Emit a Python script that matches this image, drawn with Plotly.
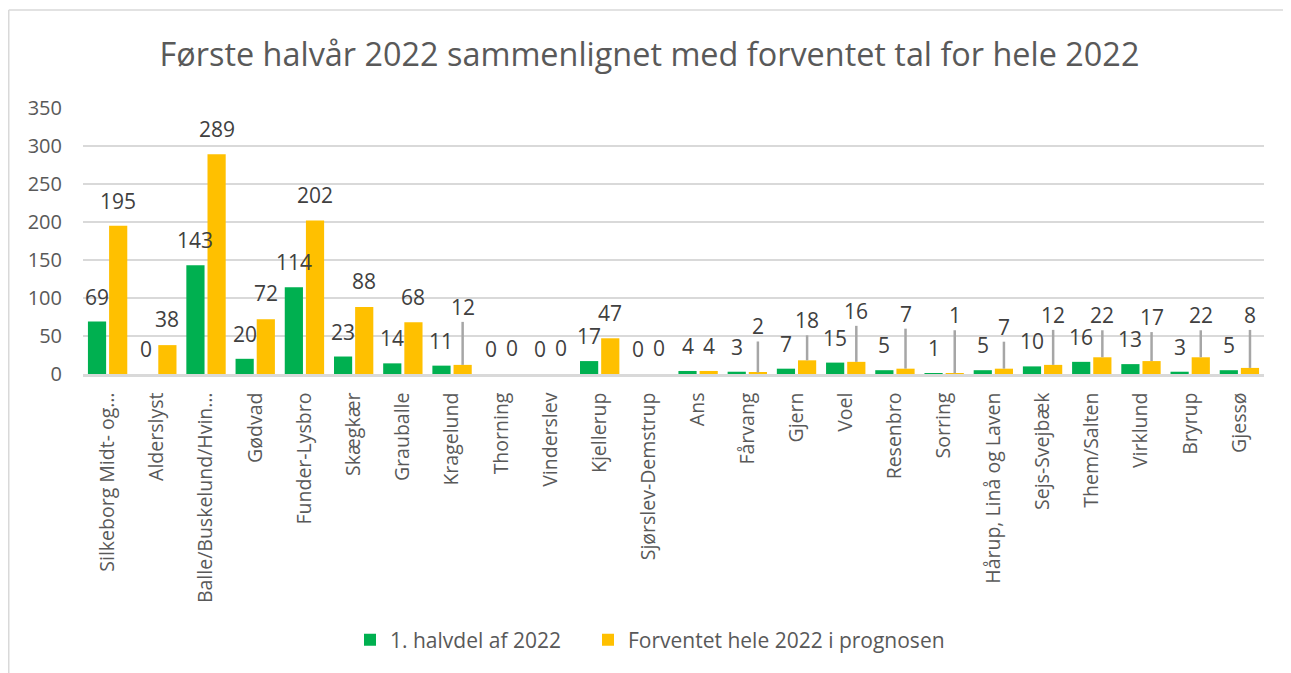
import plotly.graph_objects as go

categories = ["Silkeborg Midt- og…", "Alderslyst", "Balle/Buskelund/Hvin…", "Gødvad",
              "Funder-Lysbro", "Skægkær", "Grauballe", "Kragelund", "Thorning", "Vinderslev",
              "Kjellerup", "Sjørslev-Demstrup", "Ans", "Fårvang", "Gjern", "Voel", "Resenbro",
              "Sorring", "Hårup, Linå og Laven", "Sejs-Svejbæk", "Them/Salten", "Virklund",
              "Bryrup", "Gjessø"]
first_half = [69, 0, 143, 20, 114, 23, 14, 11, 0, 0, 17, 0, 4, 3, 7, 15, 5, 1, 5, 10, 16, 13, 3, 5]
full_year = [195, 38, 289, 72, 202, 88, 68, 12, 0, 0, 47, 0, 4, 2, 18, 16, 7, 1, 7, 12, 22, 17, 22, 8]
series_names = ["1. halvdel af 2022", "Forventet hele 2022 i prognosen"]
y_ticks = [0, 50, 100, 150, 200, 250, 300, 350]

# label layout (pixels above bar top) - styling, not data
green_lift = [25] * len(categories)
yellow_lift = [25, 26, 25, 26, 25, 26, 25, 58, 26, 26, 25, 26, 25, 46, 40, 51, 55, 58, 42, 50, 42, 44, 42, 53]

GREEN = "#00B050"
YELLOW = "#FFC000"
TXT = "#404040"
FONT = "Open Sans"

# page has an 8px body margin: figure origin is at screen (8, 8)
W, H = 1283, 665
ML, MR, MT, MB = 75, 27, 100, 299
PW, PH = W - ML - MR, H - MT - MB
BARGAP = 0.14
GROUPGAP = 0.14
offset = (1 - BARGAP) / 4

fig = go.Figure()
fig.add_trace(go.Bar(x=categories, y=first_half, name=series_names[0], marker_color=GREEN,
                     marker_line_width=0, legend="legend"))
fig.add_trace(go.Bar(x=categories, y=full_year, name=series_names[1], marker_color=YELLOW,
                     marker_line_width=0, legend="legend2"))

annotations = []
shapes = []
for i, (g, yv) in enumerate(zip(first_half, full_year)):
    annotations.append(dict(x=i - offset, y=g, xref="x", yref="y", text=str(g), showarrow=False,
                            yshift=green_lift[i], yanchor="middle",
                            font=dict(family=FONT, size=21, color=TXT)))
    annotations.append(dict(x=i + offset, y=yv, xref="x", yref="y", text=str(yv), showarrow=False,
                            yshift=yellow_lift[i], yanchor="middle",
                            font=dict(family=FONT, size=21, color=TXT)))
    if yellow_lift[i] > 35:
        shapes.append(dict(type="line", xref="x", yref="y", ysizemode="pixel", yanchor=yv,
                           x0=i + offset, x1=i + offset, y0=0, y1=yellow_lift[i] - 15,
                           line=dict(color="#a6a6a6", width=2.5)))

# outer chart frame (top and left edges)
fx = (0.75 - ML) / PW
fy = (H - MB - 2) / PH
shapes.append(dict(type="line", xref="paper", yref="paper", x0=fx, x1=(W - ML) / PW + 0.1,
                   y0=fy, y1=fy, line=dict(color="#d9d9d9", width=1.5)))
shapes.append(dict(type="line", xref="paper", yref="paper", x0=fx, x1=fx,
                   y0=fy, y1=-(MB + 10) / PH, line=dict(color="#d9d9d9", width=1.5)))

legend_style = dict(orientation="h", xanchor="left", y=(H - MB - 632) / PH, yanchor="middle",
                    font=dict(family=FONT, size=21, color="#595959"), itemwidth=30,
                    bgcolor="rgba(0,0,0,0)")

fig.update_layout(
    width=W, height=H,
    margin=dict(l=ML, r=MR, t=MT, b=MB),
    paper_bgcolor="white", plot_bgcolor="white",
    barmode="group", bargap=BARGAP, bargroupgap=GROUPGAP,
    title=dict(text="Første halvår 2022 sammenlignet med forventet tal for hele 2022",
               x=0.5, xanchor="center", y=1 - 47 / H, yanchor="middle",
               font=dict(family=FONT, size=32.4, color="#595959")),
    font=dict(family=FONT, color="#595959"),
    showlegend=True,
    legend=dict(x=(342 - ML) / PW, **legend_style),
    legend2=dict(x=(580 - ML) / PW, **legend_style),
    annotations=annotations,
    shapes=shapes,
)
fig.update_xaxes(type="category", tickangle=-90, showgrid=False, showline=True,
                 linecolor="#d9d9d9", linewidth=2.5, ticks="", ticklabelstandoff=8,
                 tickfont=dict(family=FONT, size=19.5, color="#595959"))
fig.update_yaxes(range=[0, 350], tickvals=y_ticks, showgrid=True, gridcolor="#d9d9d9", gridwidth=1.5,
                 zeroline=False, showline=False, ticks="", ticklabelstandoff=20,
                 tickfont=dict(family=FONT, size=20, color="#595959"))

fig.write_html("out.html")
